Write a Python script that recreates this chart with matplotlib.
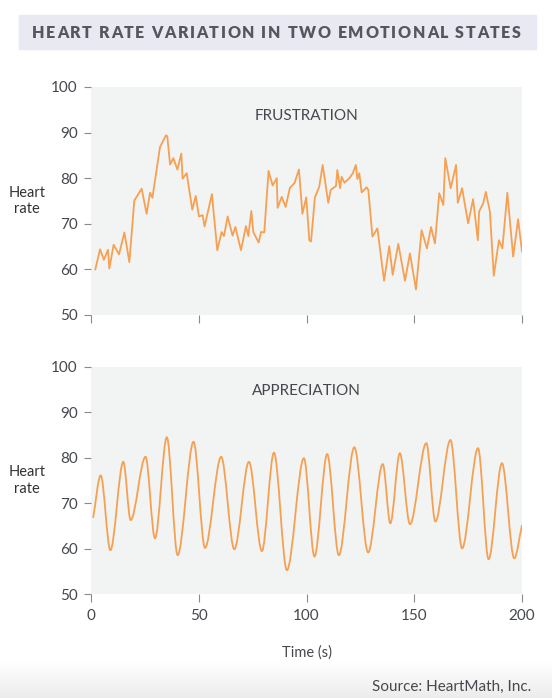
import matplotlib
matplotlib.use("Agg")
import matplotlib.pyplot as plt
from matplotlib.path import Path
from matplotlib.patches import PathPatch, Rectangle
import numpy as np

plt.rcParams['font.family'] = ['Lato', 'DejaVu Sans']

# Frustration: heart rate readings (time in s, bpm)
frus_time = [2, 4.2, 6, 7.9, 8.5, 10.5, 13, 15.5, 17.8, 20.1, 23.5, 25.8, 27.4, 28.5,
             32, 34.8, 35.4, 36.7, 38.2, 40.1, 41.9, 42.5, 44.4, 47, 48.6, 50.1, 51.8,
             52.7, 56.1, 58.6, 60.6, 61.7, 63.4, 65.7, 67, 69.6, 71.9, 73, 74.4, 75.3,
             77.8, 78.9, 80.4, 82.4, 84.3, 86.2, 86.6, 88.5, 90.3, 92.3, 94.4, 96.5,
             98.1, 99.9, 101.3, 102.1, 103.9, 105.9, 107.5, 110.1, 111.2, 113.7, 114.3,
             115.6, 116.3, 117.6, 119.9, 121.5, 122.9, 123.6, 124.5, 125.6, 127.9,
             128.7, 130.6, 132.9, 136, 138.4, 140, 142.6, 145.7, 148, 150.8, 153.4,
             155.9, 157.8, 159.6, 161.6, 163.5, 164.4, 166.9, 169.4, 170.2, 172.2, 175,
             177.3, 179.5, 180.1, 182, 183.2, 185.1, 186.9, 189.3, 190.9, 193.2, 195.9,
             198.2, 200]
frus_rate = [60.0, 64.4, 62.1, 64.3, 60.2, 65.4, 63.3, 68.1, 61.6, 75.1, 77.7, 72.2,
             76.8, 75.7, 86.8, 89.4, 89.2, 83.0, 84.4, 81.9, 85.4, 79.9, 81.1, 73.1,
             76.1, 71.6, 71.9, 69.4, 76.5, 64.2, 68.2, 67.3, 71.6, 67.4, 69.3, 64.2,
             69.5, 67.3, 72.8, 68.2, 65.9, 68.2, 68.1, 81.6, 78.4, 80.0, 73.5, 75.9,
             73.7, 77.9, 78.9, 81.9, 72.2, 75.8, 66.4, 66.1, 75.8, 78.1, 82.9, 74.6,
             77.4, 78.3, 81.8, 77.8, 80.3, 79.0, 80.0, 81.1, 82.9, 79.8, 81.1, 76.9,
             78.0, 77.4, 67.2, 69.0, 57.5, 65.1, 58.8, 65.6, 57.5, 63.5, 55.6, 68.6,
             64.6, 69.3, 65.7, 76.7, 74.1, 84.4, 77.8, 82.9, 74.6, 77.8, 70.1, 75.4,
             66.4, 72.7, 74.5, 77.0, 72.7, 58.6, 66.4, 64.6, 76.8, 62.8, 71.0, 63.9]

# Appreciation: peaks and troughs of the smooth rhythm (plus the two ends)
appr_time = [1, 4.5, 9.0, 15.0, 18.4, 25.3, 29.7, 35.2, 40.2, 47.6, 52.9, 60.4, 66.5,
             73.3, 79.3, 84.9, 90.9, 98.8, 103.7, 109.6, 115.0, 122.2, 128.6, 135.4,
             138.9, 143.3, 148.0, 155.6, 159.8, 166.8, 172.2, 179.6, 184.5, 190.7,
             196.4, 200]
appr_rate = [66.8, 76.1, 59.7, 79.1, 66.3, 80.2, 62.3, 84.5, 58.6, 83.5, 60.2, 80.2,
             59.9, 79.1, 59.5, 81.1, 55.3, 79.9, 58.3, 80.8, 58.6, 82.3, 59.2, 78.6,
             65.6, 81.0, 65.4, 83.2, 66.0, 83.9, 60.1, 82.1, 57.7, 78.8, 57.9, 65.2]

x_ticks = [0, 50, 100, 150, 200]
y_ticks = [50, 60, 70, 80, 90, 100]

LINE = '#f6a052'
PANEL = '#f2f3f3'
TXT = '#45484d'
TICK = '#8a8a8a'

W, H = 552, 698
fig = plt.figure(figsize=(W / 100, H / 100), dpi=100)

# soft grey fade at the bottom
grad = fig.add_axes([0, 0, 1, 36 / H], zorder=-5)
shade = np.linspace(1.0, 0.925, 64).reshape(-1, 1, 1) * np.ones((1, 1, 3))
grad.imshow(shade, aspect='auto', extent=[0, 1, 0, 1])
grad.axis('off')

# title box
fig.patches.append(Rectangle((19 / W, 1 - 49 / H), (536 - 19) / W, 34 / H,
                             transform=fig.transFigure, color='#e9e9f3', zorder=0))


def tracked_title(s, x0, x1, y, **kw):
    # draw text with letter spacing so that it spans x0..x1 pixels
    renderer = fig.canvas.get_renderer()
    probe = fig.text(0, 0, 'x', **kw)
    prop = probe.get_fontproperties()
    probe.remove()
    widths = [renderer.get_text_width_height_descent(ch, prop, ismath=False)[0] for ch in s]
    gap = (x1 - x0 - sum(widths)) / (len(s) - 1)
    x = x0
    for ch, w in zip(s, widths):
        fig.text(x / W, 1 - y / H, ch, ha='left', va='center', **kw)
        x += w + gap


tracked_title('HEART RATE VARIATION IN TWO EMOTIONAL STATES', 32, 521, 32.5,
              fontsize=11.5, fontweight='heavy', color='#54575c')


def style(ax, show_labels):
    ax.set_facecolor(PANEL)
    ax.set_xlim(0, 200)
    ax.set_ylim(50, 100)
    for sp in ax.spines.values():
        sp.set_visible(False)
    ax.set_xticks(x_ticks)
    ax.set_yticks(y_ticks)
    ax.tick_params(axis='y', length=5, width=0.8, color=TICK, pad=4.5,
                   labelsize=11, labelcolor=TXT)
    ax.tick_params(axis='x', length=5.5, width=0.8, color=TICK, pad=5,
                   labelsize=11, labelcolor=TXT, labelbottom=show_labels)
    ax.text(-0.148, 0.5, 'Heart\nrate', transform=ax.transAxes, ha='center',
            va='center', fontsize=10.5, color='#333333', linespacing=1.25)


ax1 = fig.add_axes([91 / W, 1 - 315 / H, 431 / W, 228 / H])
style(ax1, False)
ax1.plot(frus_time, frus_rate, color=LINE, lw=1.3, solid_joinstyle='round')
ax1.text(0.5, 0.875, 'FRUSTRATION', transform=ax1.transAxes, ha='center', va='center',
         fontsize=11, color=TXT)

ax2 = fig.add_axes([91 / W, 1 - 594.3 / H, 431 / W, 227.6 / H])
style(ax2, True)

# smooth curve through the extremes: cubic segments with flat tangents at each turn
verts = [(appr_time[0], appr_rate[0])]
codes = [Path.MOVETO]
n = len(appr_time)
for i in range(n - 1):
    t0, v0 = appr_time[i], appr_rate[i]
    t1, v1 = appr_time[i + 1], appr_rate[i + 1]
    dt = t1 - t0
    c1v = v0 if 0 < i else v0 + (v1 - v0) / 3
    c2v = v1 if i + 1 < n - 1 else v1 - (v1 - v0) / 3
    verts += [(t0 + dt / 3, c1v), (t1 - dt / 3, c2v), (t1, v1)]
    codes += [Path.CURVE4] * 3
ax2.add_patch(PathPatch(Path(verts, codes), fill=False, edgecolor=LINE, lw=1.3))
ax2.text(0.5, 0.893, 'APPRECIATION', transform=ax2.transAxes, ha='center', va='center',
         fontsize=11, color=TXT)

fig.text(306.5 / W, 1 - 652.5 / H, 'Time (s)', ha='center', va='center',
         fontsize=10.5, color=TXT)
fig.text(531 / W, 1 - 686.5 / H, 'Source: HeartMath, Inc.', ha='right', va='center',
         fontsize=11, color=TXT)

fig.savefig('out.png', dpi=100)
